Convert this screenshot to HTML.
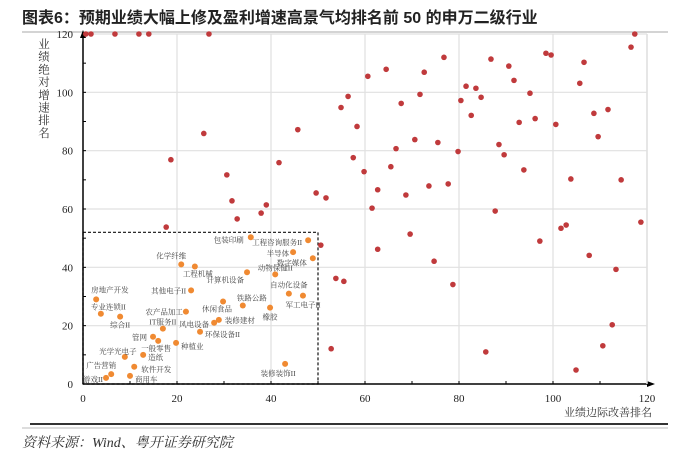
<!DOCTYPE html>
<html><head><meta charset="utf-8">
<style>
body{margin:0;background:#fff;width:682px;height:456px;overflow:hidden;font-family:"Liberation Serif","Noto Serif CJK SC",serif;}
#wrap{position:relative;width:682px;height:456px;}
.title{position:absolute;left:22px;top:4px;font:bold 16px "Liberation Sans","Noto Sans CJK SC",sans-serif;color:#222;white-space:nowrap;}
.src{position:absolute;left:22px;top:432px;font:italic 14px "Liberation Serif","Noto Serif CJK SC",serif;color:#333;}
</style></head><body>
<div id="wrap">
<div class="title">图表6：预期业绩大幅上修及盈利增速高景气均排名前 50 的申万二级行业</div>
<svg id="chart" width="682" height="456" style="position:absolute;left:0;top:0"></svg>
<div class="src">资料来源：Wind、粤开证券研究院</div>
</div>
<script>
const redX=[0.6,1.7,6.8,11.9,14,26.8,18.7,25.7,30.6,31.7,32.8,37.9,39,41.7,45.7,17.7,49.6,51.7,50.6,52.8,53.8,55.5,54.9,56.4,57.5,58.3,59.8,60.6,61.5,62.7,62.7,64.5,65.5,66.6,67.7,68.7,69.6,70.6,71.7,72.6,73.6,74.7,75.5,76.8,77.7,78.7,79.8,80.4,81.5,82.6,83.6,84.7,85.7,86.8,87.7,88.5,89.6,90.6,91.7,92.8,93.8,95.1,96.2,97.2,98.5,99.6,100.6,101.7,102.8,103.8,104.9,105.7,106.6,107.7,108.7,109.6,110.6,111.7,112.6,113.4,114.5,116.6,117.4,118.7];
const redY=[120,120,120,120,120,120,76.9,85.9,71.7,62.8,56.6,58.6,61.4,75.9,87.2,53.8,65.5,63.8,47.6,12.1,36.2,35.2,94.8,98.6,77.6,88.3,72.8,105.5,60.3,66.6,46.2,107.9,74.5,80.7,96.2,64.8,51.4,83.8,99.3,106.9,67.9,42.1,82.8,112,68.6,34.1,79.7,97.2,102.1,92.1,101.4,98.3,11,111.4,59.3,82.1,78.6,109,104.1,89.7,73.4,99.7,91,49,113.4,112.8,89,53.4,54.5,70.3,4.8,103.1,110.3,44.1,92.8,84.8,13.1,94.1,20.3,39.3,70,115.5,120,55.5];
const topNames=["包装印刷","工程咨询服务II","半导体","数字媒体","化学纤维","工程机械","动物保健II","计算机设备","自动化设备","其他电子II","房地产开发","铁路公路","休闲食品","军工电子II","专业连锁II","综合II","农产品加工","橡胶","风电设备","装修建材","IT服务II","环保设备II","管网","一般零售","种植业","光学光电子","造纸","广告营销","软件开发","游戏II","商用车","装修装饰II"];
const topX=[35.7,47.9,44.7,48.9,20.9,23.8,40.9,34.9,43.8,23,2.8,34,29.8,46.8,3.8,7.9,21.9,39.8,27.9,28.9,17,24.9,14.9,16,19.8,8.9,12.8,6,10.9,4.9,10,43];
const topY=[50.3,49.3,45.2,43.1,41,40.3,37.6,38.3,31,32.1,29,26.9,28.3,30.3,24.1,23.1,24.8,26.2,21,22,19,17.9,16.2,14.8,14.1,9.3,10,3.4,5.9,2.1,2.8,6.9];
const xTicks=[0,20,40,60,80,100,120];
const yTicks=[0,20,40,60,80,100,120];
// label placement: [anchor, dx, dy] in px (styling only)
const lblPos=[["end",-7,5],["end",-6,5],["end",-4,4],["end",-6,7],["middle",-10,-6],["middle",3,10],["middle",0,-4],["end",-3,10],["middle",0,-6],["end",-5,3],["start",-5,-7],["start",-6,-5],["middle",-6,10],["middle",0,12],["start",-10,-4],["middle",0,11],["end",-3,3],["middle",0,12],["end",-5,4],["start",6,3],["middle",0,-4],["start",5,5],["end",-6,3],["middle",-2,10],["start",5,6],["middle",-7,-3],["start",5,5],["middle",-10,-6],["start",7,5],["end",-3,4],["start",5,6],["middle",-7,12]];
const X0=83,X1=647,Y0=384,Y1=34;
const sx=v=>X0+(v/120)*(X1-X0), sy=v=>Y0-(v/120)*(Y0-Y1);
const svg=document.getElementById('chart'),NS='http://www.w3.org/2000/svg';
function mk(t,a,p){const e=document.createElementNS(NS,t);for(const k in a)e.setAttribute(k,a[k]);(p||svg).appendChild(e);return e;}
let l=mk('line',{x1:22,y1:32,x2:668,y2:32,stroke:'#aaa','stroke-width':1});


l=mk('line',{x1:30,y1:424,x2:668,y2:424,stroke:'#333','stroke-width':2});


l=mk('line',{x1:22,y1:428,x2:668,y2:428,stroke:'#bbb','stroke-width':1});


xTicks.forEach(t=>{if(t===0)return;const g=mk('line',{x1:sx(t),y1:Y1,x2:sx(t),y2:Y0,stroke:'#e0e0e0','stroke-width':1.2});

});
yTicks.forEach(t=>{if(t===0)return;const g=mk('line',{x1:X0,y1:sy(t),x2:X1,y2:sy(t),stroke:'#e0e0e0','stroke-width':1.2});

});
const box=mk('rect',{x:X0,y:sy(52),width:sx(50)-X0,height:Y0-sy(52),fill:'none',stroke:'#111','stroke-width':1.2,'stroke-dasharray':'3,2'});


const ax=mk('line',{x1:X0,y1:Y0,x2:X1+4,y2:Y0,stroke:'#000','stroke-width':1.5});


const ay=mk('line',{x1:X0,y1:Y0,x2:X0,y2:Y1-2,stroke:'#000','stroke-width':1.5});


let ar=mk('polygon',{points:`${X1+8},${Y0} ${X1},${Y0-3} ${X1},${Y0+3}`,fill:'#000'});


ar=mk('polygon',{points:`${X0},${Y1-4} ${X0-3},${Y1+4} ${X0+3},${Y1+4}`,fill:'#000'});


for(let t=10;t<120;t+=10){mk('line',{x1:sx(t),y1:Y0,x2:sx(t),y2:Y0-3,stroke:'#000'});mk('line',{x1:X0,y1:sy(t),x2:X0+3,y2:sy(t),stroke:'#000'});}
xTicks.forEach(t=>{const e=mk('text',{x:sx(t),y:Y0+18,'text-anchor':'middle','font-size':11,fill:'#222'});e.textContent=t;

});
yTicks.forEach(t=>{const e=mk('text',{x:X0-10,y:sy(t)+4,'text-anchor':'end','font-size':11,fill:'#222'});e.textContent=t;

});
let xt=mk('text',{x:652,y:416,'text-anchor':'end','font-size':11,fill:'#333'});xt.textContent='业绩边际改善排名';


const yt=mk('g',{});


'业绩绝对增速排名'.split('').forEach((c,i)=>{const e=mk('text',{x:44,y:48+i*12.7,'text-anchor':'middle','font-size':11.5,fill:'#333'},yt);e.textContent=c;});
const rb=mk('line',{x1:X1,y1:Y1,x2:X1,y2:Y0,stroke:'#e0e0e0','stroke-width':1.5});


redX.forEach((v,i)=>{const c=mk('circle',{cx:sx(v),cy:sy(redY[i]),r:2.8,fill:'#c03a3c'});

});
topX.forEach((v,i)=>{const x=sx(v),y=sy(topY[i]);const c=mk('circle',{cx:x,cy:y,r:3,fill:'#f08a32'});


const p=lblPos[i];const t=mk('text',{x:x+p[1],y:y+p[2],'text-anchor':p[0],'font-size':7.5,fill:'#444'});t.textContent=topNames[i];

});
</script>
</body></html>
